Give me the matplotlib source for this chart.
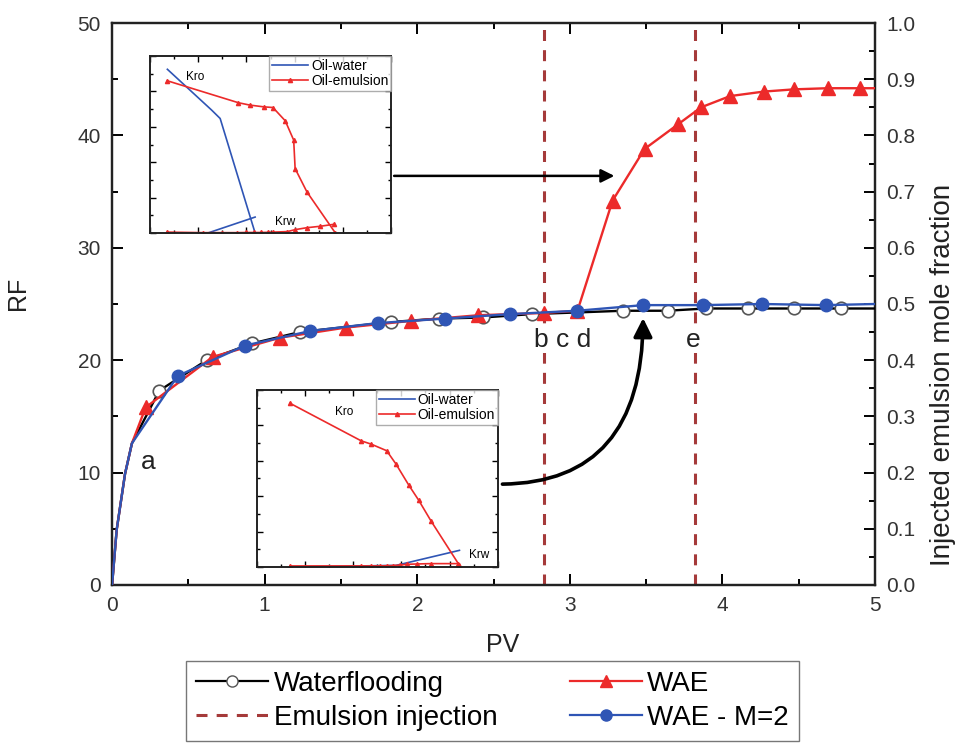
import matplotlib
matplotlib.use('Agg')
import matplotlib.pyplot as plt
from matplotlib.ticker import MultipleLocator

plt.rcParams['font.family'] = ['Liberation Sans', 'DejaVu Sans']

# main curves: RF vs PV (unmarked points first, then marked ones)
wf_pv = [0, 0.03, 0.085, 0.13, 0.31, 0.62, 0.92, 1.23, 1.83, 2.14, 2.43, 2.75,
         3.35, 3.64, 3.89, 4.17, 4.47, 4.78, 5.0]
wf_rf = [0, 4.9, 9.9, 12.6, 17.3, 20.0, 21.5, 22.5, 23.4, 23.7, 23.8, 24.1,
         24.4, 24.4, 24.6, 24.6, 24.6, 24.6, 24.6]
wf_marks = list(range(4, 18))

wae_pv = [0, 0.03, 0.085, 0.13, 0.22, 0.66, 1.10, 1.53, 1.96, 2.40, 2.83, 3.05,
          3.28, 3.49, 3.71, 3.86, 4.05, 4.27, 4.47, 4.69, 4.90, 5.0]
wae_rf = [0, 4.9, 9.9, 12.6, 15.8, 20.3, 22.0, 22.9, 23.5, 24.0, 24.2, 24.4,
          34.2, 38.8, 41.0, 42.5, 43.5, 43.9, 44.1, 44.2, 44.2, 44.2]
wae_marks = list(range(4, 21))

m2_pv = [0, 0.03, 0.085, 0.13, 0.43, 0.87, 1.30, 1.74, 2.18, 2.61, 3.05, 3.48,
         3.87, 4.26, 4.68, 5.0]
m2_rf = [0, 4.9, 9.9, 12.6, 18.6, 21.3, 22.6, 23.3, 23.7, 24.1, 24.4, 24.9,
         24.9, 25.0, 24.9, 25.0]
m2_marks = list(range(4, 15))

# injected emulsion mole fraction (right axis), a single pulse
inj_pv = [0, 2.83, 2.83, 3.82, 3.82, 5]
inj_frac = [0, 0, 1, 1, 0, 0]

# inset 1 relative permeability curves
i1_ow_kro_s = [0.072, 0.256, 0.291, 0.436]
i1_ow_kro = [0.925, 0.694, 0.647, 0.0]
i1_ow_krw_s = [0.072, 0.24, 0.436]
i1_ow_krw = [0.0, 0.0, 0.09]
i1_oe_kro_s = [0.072, 0.367, 0.413, 0.471, 0.510, 0.561, 0.596, 0.602, 0.651, 0.769]
i1_oe_kro = [0.86, 0.736, 0.723, 0.713, 0.709, 0.634, 0.525, 0.364, 0.232, 0.0]
i1_oe_krw_s = [0.072, 0.22, 0.30, 0.36, 0.40, 0.43, 0.46, 0.49, 0.51, 0.57,
               0.602, 0.651, 0.706, 0.762]
i1_oe_krw = [0.005, 0.002, 0.002, 0.002, 0.003, 0.003, 0.003, 0.004, 0.005,
             0.008, 0.019, 0.030, 0.038, 0.049]

# inset 2 relative permeability curves
i2_ow_krw_s = [0.138, 0.578, 0.841]
i2_ow_krw = [0.0, 0.009, 0.094]
i2_oe_kro_s = [0.138, 0.433, 0.475, 0.539, 0.578, 0.631, 0.672, 0.723, 0.841]
i2_oe_kro = [0.925, 0.713, 0.694, 0.657, 0.581, 0.462, 0.377, 0.260, 0.009]
i2_oe_krw_s = [0.138, 0.433, 0.475, 0.51, 0.539, 0.567, 0.595, 0.622, 0.664,
               0.723, 0.834]
i2_oe_krw = [0.006, 0.006, 0.006, 0.006, 0.007, 0.008, 0.011, 0.015, 0.017,
             0.019, 0.019]

red = '#ec2a2a'
blue = '#2f55b5'
dash_col = '#a53a3a'
tick_col = '#333333'
dash = (0, (3.6, 3))

fig = plt.figure(figsize=(9.58, 7.43), dpi=100)
ax = fig.add_axes([0.117, 0.2127, 0.7964, 0.7563])
ax2 = ax.twinx()
ax.set_zorder(ax2.get_zorder() + 1)
ax.patch.set_visible(False)

# only the rising/falling edges of the pulse are visible in the figure
for i in range(1, len(inj_pv)):
    if inj_pv[i] == inj_pv[i - 1] and inj_frac[i] != inj_frac[i - 1]:
        ax2.vlines(inj_pv[i], min(inj_frac[i], inj_frac[i - 1]),
                   max(inj_frac[i], inj_frac[i - 1]), color=dash_col, lw=2.2,
                   linestyle=dash, zorder=1)

ax.plot(wf_pv, wf_rf, color='black', lw=1.7, marker='o', ms=9, mfc='white',
        mec='#555555', mew=1.2, markevery=wf_marks, zorder=3)
ax.plot(wae_pv, wae_rf, color=red, lw=1.7, marker='^', ms=9.5, mfc=red,
        mec=red, markevery=wae_marks, zorder=4)
ax.plot(m2_pv, m2_rf, color=blue, lw=1.7, marker='o', ms=9, mfc=blue,
        mec=blue, markevery=m2_marks, zorder=5)

ax.set_xlim(0, 5)
ax.set_ylim(0, 50)
ax2.set_ylim(0, 1.0)
ax.xaxis.set_major_locator(MultipleLocator(1))
ax.xaxis.set_minor_locator(MultipleLocator(0.5))
ax.yaxis.set_major_locator(MultipleLocator(10))
ax.yaxis.set_minor_locator(MultipleLocator(5))
ax2.yaxis.set_major_locator(MultipleLocator(0.1))
ax2.yaxis.set_minor_locator(MultipleLocator(0.05))
ax2.yaxis.set_major_formatter(plt.FormatStrFormatter('%.1f'))

ax.tick_params(which='both', direction='in', top=True, right=False, width=1.4,
               labelsize=15, labelcolor=tick_col, pad=8)
ax.tick_params(which='major', length=8)
ax.tick_params(which='minor', length=4)
ax2.tick_params(which='both', direction='in', width=1.4, labelsize=15,
                labelcolor=tick_col, pad=8)
ax2.tick_params(which='major', length=8)
ax2.tick_params(which='minor', length=4)
for a in (ax, ax2):
    for sp in a.spines.values():
        sp.set_linewidth(1.6)
        sp.set_color('#222222')

fig.text(18 / 958, 1 - 293 / 743, 'RF', fontsize=18, ha='center', va='center',
         rotation=90, color='#222222')
fig.text(503 / 958, 1 - 645 / 743, 'PV', fontsize=18, ha='center', va='center',
         color='#222222')
fig.text(943 / 958, 1 - 375 / 743, 'Injected emulsion mole fraction', fontsize=20,
         ha='center', va='center', rotation=90, color='#222222')

# point labels, with a white backing so they break the dashed lines
lbl_box = dict(facecolor='white', edgecolor='none', pad=1)
ax.text(0.24, 10.9, 'a', fontsize=19, ha='center', va='center', color='#222222')
ax.text(2.95, 21.8, 'b c d', fontsize=19, ha='center', va='center',
        color='#222222', bbox=lbl_box, zorder=6)
ax.text(3.81, 21.8, 'e', fontsize=19, ha='center', va='center',
        color='#222222', bbox=lbl_box, zorder=6)

ax.annotate('', xy=(3.31, 36.4), xytext=(1.83, 36.4),
            arrowprops=dict(arrowstyle='-|>', color='black', lw=1.8,
                            mutation_scale=20), zorder=6)
ax.annotate('', xy=(3.48, 24.0), xytext=(2.54, 8.97),
            arrowprops=dict(arrowstyle='-|>', color='black', lw=2.6,
                            mutation_scale=28,
                            connectionstyle='angle3,angleA=0,angleB=90'),
            zorder=6)

# legend below the plot
handles = [
    plt.Line2D([], [], color='black', lw=1.6, marker='o', ms=8, mfc='white', mec='#555555'),
    plt.Line2D([], [], color=dash_col, lw=2.2, linestyle=dash),
    plt.Line2D([], [], color=red, lw=1.6, marker='^', ms=8, mfc=red, mec=red),
    plt.Line2D([], [], color=blue, lw=1.6, marker='o', ms=8, mfc=blue, mec=blue),
]
labels = ['Waterflooding', 'Emulsion injection', 'WAE', 'WAE - M=2']
fig.legend(handles, labels, ncol=2, loc='lower center',
           bbox_to_anchor=(0.514, 0.003), fontsize=20, frameon=True,
           fancybox=False, edgecolor='#555555', handlelength=2.6,
           handletextpad=0.2, columnspacing=2.6, labelspacing=0.3,
           borderpad=0.35, borderaxespad=0.0)


def style_inset(axi):
    axi.set_xlim(0, 1)
    axi.set_ylim(0, 1)
    axi.xaxis.set_major_locator(MultipleLocator(0.2))
    axi.xaxis.set_minor_locator(MultipleLocator(0.1))
    axi.yaxis.set_major_locator(MultipleLocator(0.2))
    axi.yaxis.set_minor_locator(MultipleLocator(0.1))
    axi.tick_params(which='both', direction='in', top=True, right=True,
                    labelbottom=False, labelleft=False, width=1.0)
    axi.tick_params(which='major', length=4)
    axi.tick_params(which='minor', length=2)
    for sp in axi.spines.values():
        sp.set_linewidth(1.4)
        sp.set_color('#222222')


in1 = fig.add_axes([0.1566, 0.6864, 0.2516, 0.2382])
in1.plot(i1_ow_kro_s, i1_ow_kro, color=blue, lw=1.2, label='Oil-water')
in1.plot(i1_ow_krw_s, i1_ow_krw, color=blue, lw=1.2)
in1.plot(i1_oe_kro_s, i1_oe_kro, color=red, lw=1.2, marker='^', ms=3,
         label='Oil-emulsion')
in1.plot(i1_oe_krw_s, i1_oe_krw, color=red, lw=1.2, marker='^', ms=3)
in1.text(0.187, 0.883, 'Kro', fontsize=8.5, ha='center', va='center')
in1.text(0.561, 0.06, 'Krw', fontsize=8.5, ha='center', va='center')
style_inset(in1)
in1.legend(loc='upper right', fontsize=10, frameon=True, fancybox=False,
           edgecolor='#999999', handlelength=2.6, handletextpad=0.2,
           borderpad=0.2, labelspacing=0.1, borderaxespad=0.0)

in2 = fig.add_axes([0.268, 0.2369, 0.2516, 0.2382])
in2.plot(i2_ow_krw_s, i2_ow_krw, color=blue, lw=1.2, label='Oil-water')
in2.plot(i2_oe_kro_s, i2_oe_kro, color=red, lw=1.2, marker='^', ms=3,
         label='Oil-emulsion')
in2.plot(i2_oe_krw_s, i2_oe_krw, color=red, lw=1.2, marker='^', ms=3)
in2.text(0.364, 0.877, 'Kro', fontsize=8.5, ha='center', va='center')
in2.text(0.924, 0.066, 'Krw', fontsize=8.5, ha='center', va='center')
style_inset(in2)
in2.legend(loc='upper right', fontsize=10, frameon=True, fancybox=False,
           edgecolor='#999999', handlelength=2.6, handletextpad=0.2,
           borderpad=0.2, labelspacing=0.1, borderaxespad=0.0)

fig.savefig('out.png', dpi=100)
